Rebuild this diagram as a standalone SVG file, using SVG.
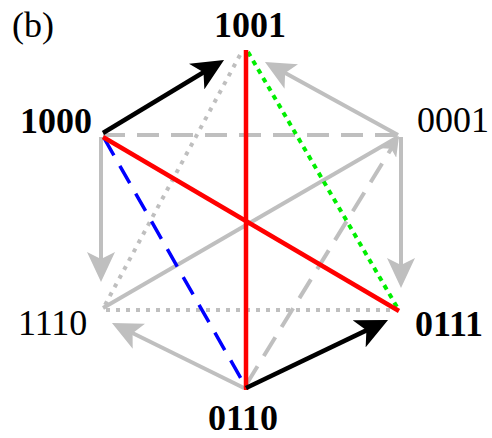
<svg xmlns="http://www.w3.org/2000/svg" width="492" height="438" viewBox="0 0 492 438">
<style>
text{font-family:"Liberation Serif","Times New Roman",serif;font-size:36px;fill:#000}
.b{font-weight:bold}
.g{stroke:#bfbfbf;stroke-width:4;fill:none}
.gd{stroke-dasharray:22 12}
.gdot{stroke-dasharray:4 6}
.k{stroke:#000;stroke-width:4.5;fill:none}
.red{stroke:#ff0000;stroke-width:4.5;fill:none}
.grn{stroke:#00ee00;stroke-width:4;stroke-dasharray:5 5;fill:none}
.blu{stroke:#0000ff;stroke-width:3.5;stroke-dasharray:20 12;fill:none}
</style>
<defs>
<marker id="ak" markerUnits="userSpaceOnUse" viewBox="0 0 32 30" refX="12" refY="15" markerWidth="32" markerHeight="30" orient="auto">
<path d="M0,0 L32,15 L0,30 L8,15 z" fill="#000"/>
</marker>
<marker id="ag" markerUnits="userSpaceOnUse" viewBox="0 0 30 28" refX="10" refY="14" markerWidth="30" markerHeight="28" orient="auto">
<path d="M0,0 L30,14 L0,28 L7,14 z" fill="#bfbfbf"/>
</marker>
<marker id="ags" markerUnits="userSpaceOnUse" viewBox="0 0 20 18" refX="6" refY="9" markerWidth="20" markerHeight="18" orient="auto">
<path d="M0,0 L20,9 L0,18 L5,9 z" fill="#bfbfbf"/>
</marker>
</defs>
<text x="12" y="37">(b)</text>
<g id="connectors">
<line class="g gd" x1="103" y1="135" x2="398" y2="135"/>
<line class="g gdot" x1="240" y1="55" x2="105" y2="305"/>
<line class="g gdot" x1="106" y1="310" x2="396" y2="310"/>
<line class="g" x1="398" y1="137" x2="103" y2="308"/>
<line class="g gd" x1="246" y1="385" x2="391.7" y2="147.9" marker-end="url(#ags)"/>
<line class="g" x1="398" y1="135" x2="282.5" y2="71.6" marker-end="url(#ag)"/>
<line class="g" x1="101" y1="137" x2="101" y2="262" marker-end="url(#ag)"/>
<line class="g" x1="401" y1="137" x2="401" y2="268" marker-end="url(#ag)"/>
<line class="g" x1="244" y1="388" x2="129.9" y2="331.8" marker-end="url(#ag)"/>
<line class="grn" x1="248" y1="52" x2="397" y2="307"/>
<line class="blu" x1="104" y1="138" x2="243" y2="382"/>
<line class="red" x1="246" y1="50" x2="246" y2="390"/>
<line class="red" x1="103" y1="137" x2="399" y2="311"/>
<line class="k" x1="103" y1="133" x2="206.9" y2="70.3" marker-end="url(#ak)"/>
<line class="k" x1="246" y1="388" x2="370" y2="328.6" marker-end="url(#ak)"/>
</g>
<g id="n1001"><text class="b" x="250" y="37" text-anchor="middle">1001</text></g>
<g id="n1000"><text class="b" x="92" y="133" text-anchor="end">1000</text></g>
<g id="n0001"><text x="417" y="132">0001</text></g>
<g id="n1110"><text x="18" y="335">1110</text></g>
<g id="n0111"><text class="b" x="415" y="336">0111</text></g>
<g id="n0110"><text class="b" x="243" y="430" text-anchor="middle">0110</text></g>
</svg>
